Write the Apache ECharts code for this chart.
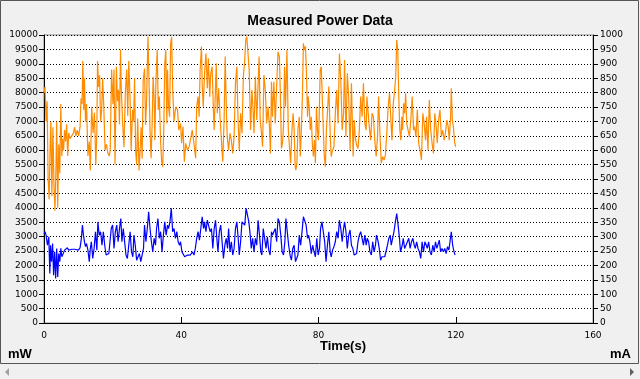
<!DOCTYPE html>
<html>
<head>
<meta charset="utf-8">
<script src="https://cdn.jsdelivr.net/npm/echarts@6/dist/echarts.min.js"></script>
<style>html,body{margin:0;padding:0;background:#F0F0F0;}#c{width:640px;height:379px;}</style>
</head>
<body>
<div id="c"></div>
<script>
// Power (mW, left axis) sampled at these times (s)
const powerTime = [0.0,0.3,0.6,0.9,1.2,1.5,1.75,2.0,2.3,2.6,2.9,3.2,3.5,3.7,4.0,4.3,4.6,4.9,5.2,5.4,5.7,6.0,6.3,6.6,6.9,7.2,7.6,8.1,8.6,8.9,9.3,9.7,10.1,10.5,10.8,11.1,11.3,11.6,11.8,12.1,12.4,12.8,13.2,13.5,13.9,14.3,14.7,15.1,15.4,15.6,15.9,16.2,16.5,16.8,17.1,17.4,17.8,18.2,18.6,19.0,19.3,19.7,20.1,20.4,20.7,21.1,21.4,21.7,22.0,22.3,22.5,22.9,23.3,23.7,24.1,24.4,24.7,25.1,25.4,25.8,26.1,26.4,26.7,27.0,27.3,27.7,28.0,28.3,28.6,28.9,
29.3,29.6,29.9,30.3,30.6,30.9,31.2,31.5,31.8,32.1,32.3,32.6,33.0,33.3,33.6,34.0,34.3,34.6,34.9,35.2,35.5,35.8,36.0,36.3,36.6,36.9,37.2,37.5,37.9,38.4,38.9,39.3,39.8,40.1,40.5,40.9,41.3,41.8,42.3,42.7,43.2,43.7,44.2,44.5,44.9,45.2,45.5,45.9,46.1,46.4,46.8,47.2,47.6,47.9,48.3,48.6,49.0,49.4,49.6,49.9,50.2,50.5,50.9,51.3,51.7,52.1,52.5,52.8,53.2,53.4,53.8,54.2,54.6,55.0,55.4,55.8,56.2,56.5,56.9,57.3,57.7,58.1,58.5,58.8,59.1,
59.8,60.2,60.6,60.9,61.2,61.6,62.0,62.4,62.7,63.0,63.3,63.7,64.1,64.5,64.9,65.3,65.7,66.0,66.3,66.6,67.0,67.4,67.8,68.2,68.6,68.9,69.2,69.5,69.8,70.1,70.4,70.8,71.2,71.6,71.9,72.2,72.6,72.9,73.2,73.4,73.7,74.0,74.4,74.7,75.0,75.3,75.6,75.9,76.2,76.5,76.8,77.0,77.3,77.6,77.9,78.2,78.5,78.8,79.1,79.4,79.7,80.0,80.2,80.5,80.8,81.1,81.4,81.7,82.0,82.3,82.6,83.0,83.4,83.7,84.1,84.5,84.9,85.3,85.7,86.1,86.5,86.9,87.3,87.6,88.0,88.4,88.8,89.2,89.6,
90.1,90.4,90.7,91.1,91.5,91.9,92.3,92.7,93.1,93.5,93.9,94.1,94.4,94.8,95.2,95.6,96.0,96.4,96.8,97.2,97.5,97.9,98.3,98.7,99.1,99.5,99.9,100.3,100.7,101.0,101.4,101.8,102.2,102.5,102.8,103.1,103.4,103.7,104.0,104.3,104.5,104.8,105.1,105.4,105.7,106.1,106.5,106.9,107.3,107.7,108.0,108.4,108.8,109.2,109.6,110.0,110.4,110.8,111.2,111.5,111.9,112.3,112.7,113.1,113.5,113.9,114.3,114.6,115.0,115.4,115.8,116.2,116.6,117.0,117.4,117.8,118.1,118.5,118.7,119.0,119.3,119.7,120.0];
const powerMW = [8000,8200,7000,7700,5000,4300,6000,7000,4400,6800,4800,3900,5500,7000,4000,6200,5200,7600,5800,6400,6000,6700,6300,6900,5800,6600,6400,6400,6600,6800,6500,6700,6500,6800,7800,7600,9100,7400,8500,7000,7600,5800,6300,5300,7500,6600,7300,5500,6600,9100,8200,8600,7000,7400,8500,7600,6000,6200,5900,5800,6000,8800,7600,8800,5500,8900,7700,8100,6900,9500,8200,7000,6100,8000,8800,7200,9100,7700,6000,7400,7000,8500,6000,5500,7100,5300,6000,6800,5700,8400,
8840,6880,7740,9950,8440,6700,5720,6820,8550,7740,6350,8320,9480,7400,7860,6240,5600,5430,6700,9000,9480,6930,8790,7510,7160,9700,9940,8090,7000,7510,7400,6700,6930,6240,6820,5600,6240,6000,6120,6060,6700,6240,5720,7510,7860,7160,8790,9600,8320,7510,8670,9360,8150,9190,7860,8670,8900,7280,6700,7860,9020,7280,8150,7160,6350,5600,7100,9250,7160,6470,6000,6590,6350,5890,6470,8320,8900,7280,6000,7280,6590,8550,9130,9830,9950,
8790,6700,8090,7510,6590,8550,7050,8320,9250,7050,6700,6120,8610,8090,6930,7510,6820,5890,8380,7160,8380,6930,8210,9420,9250,7860,6060,6240,6820,8900,7510,9480,6700,6000,5550,6590,7280,6700,5430,5310,5550,6700,7160,5780,6700,7860,9710,9480,9600,8670,7160,7860,7510,6700,7160,6240,5780,6350,5550,7510,6700,6350,7160,8790,8900,7860,6700,5780,5430,6700,7280,8210,6590,5780,6000,6120,7280,8090,6930,9360,8440,6700,7280,9130,6470,8670,7860,6000,8320,
5780,7050,6470,6180,6060,6700,7860,7160,8320,6930,6700,7860,7400,6820,6350,7280,7160,6350,5780,6470,7860,6590,5550,5780,5660,5830,6590,7510,7980,7280,6350,7630,8090,8550,9830,9480,7860,6700,6350,7160,6700,7630,7280,7980,6930,6700,6470,7050,7860,6700,6820,6470,7400,6240,6000,5660,7280,6930,6350,7160,6000,7740,6700,6240,5890,7280,6820,6240,7050,7400,6470,6700,6350,6590,7050,6820,6350,7160,8150,7050,6820,6240,6120];

// Current (mA, right axis) sampled at these times (s)
const currentTime = [0.0,0.3,0.6,1.0,1.4,1.7,1.9,2.2,2.5,2.8,3.1,3.4,3.7,4.0,4.3,4.6,4.9,5.2,5.6,6.0,6.4,6.8,7.2,7.6,8.1,8.6,9.0,9.5,10.0,10.5,10.9,11.2,11.5,11.8,12.1,12.4,12.8,13.2,13.5,13.8,14.2,14.6,15.0,15.4,15.7,16.1,16.5,16.9,17.3,17.7,18.1,18.5,18.9,19.2,19.6,20.0,20.4,20.8,21.2,21.6,22.0,22.4,22.7,23.1,23.5,23.9,24.3,24.7,25.1,25.5,25.9,26.2,26.6,27.0,27.4,27.8,28.2,28.6,29.0,29.3,29.7,30.1,30.5,30.9,31.3,31.7,32.1,32.5,32.8,33.2,33.6,34.0,34.4,34.8,35.2,35.6,36.0,36.3,36.7,37.1,37.5,37.9,38.3,38.7,39.1,39.5,39.8,40.2,40.6,41.0,41.4,41.8,42.2,42.6,43.0,43.3,43.7,44.1,44.5,44.9,45.3,45.7,46.1,46.5,46.8,47.2,47.6,48.0,48.4,48.8,49.2,49.6,50.0,50.3,50.7,51.1,51.5,51.9,52.3,52.7,53.1,53.5,53.8,54.2,54.6,55.0,55.4,55.8,56.2,56.6,56.9,57.3,57.7,58.1,58.5,58.9,59.3,59.7,60.1,60.4,
60.8,61.2,61.6,62.0,62.4,62.8,63.2,63.5,63.9,64.3,64.7,65.1,65.5,65.9,66.3,66.6,67.0,67.4,67.8,68.2,68.6,69.0,69.4,69.8,70.2,70.5,70.9,71.3,71.7,72.1,72.5,72.9,73.3,73.6,74.0,74.4,74.8,75.2,75.6,76.0,76.4,76.8,77.1,77.5,77.9,78.3,78.7,79.1,79.5,79.9,80.3,80.6,81.0,81.4,81.8,82.2,82.6,83.0,83.4,83.7,84.1,84.5,84.9,85.3,85.7,86.1,86.5,86.9,87.3,87.6,88.0,88.4,88.8,89.2,89.6,90.0,90.4,90.7,91.1,91.5,91.9,92.3,92.7,93.1,93.5,93.9,94.2,94.6,95.0,95.4,95.8,96.2,96.6,96.9,97.4,97.7,98.1,98.5,98.9,99.3,99.7,100.1,100.5,100.9,101.2,101.6,102.0,102.4,102.8,103.2,103.6,103.9,104.4,104.7,105.1,105.5,105.9,106.3,106.7,107.1,107.5,107.9,108.2,108.6,109.0,109.4,109.8,110.2,110.6,111.0,111.4,111.7,112.1,112.5,112.9,113.3,113.7,114.1,114.5,114.9,115.2,115.6,116.0,116.4,116.8,117.2,117.6,118.0,118.4,118.7,119.1,119.5,119.8];
const currentMA = [310,317,305,270,299,172,270,213,276,166,247,155,259,160,241,213,259,230,241,253,259,261,253,250,256,259,256,261,253,261,294,340,305,282,265,276,253,213,259,282,224,259,317,253,351,305,317,270,317,270,236,230,241,236,328,340,259,317,340,282,328,363,282,328,282,236,224,270,317,247,230,305,270,218,213,241,213,213,259,340,282,328,386,328,282,247,294,270,328,363,294,317,247,305,351,305,340,328,351,398,317,328,294,317,282,270,282,247,253,230,224,236,233,236,230,247,236,259,294,317,288,328,369,328,351,317,357,351,317,328,259,328,357,305,247,317,340,282,224,270,294,259,328,247,282,236,259,328,351,294,236,282,351,357,340,398,400,351,305,259,
294,247,294,270,357,305,247,236,328,294,259,299,253,236,317,305,317,328,282,363,351,305,247,236,282,363,317,270,236,218,259,270,213,218,236,305,270,317,369,375,340,294,305,282,241,270,247,230,294,236,259,328,351,317,282,213,270,317,247,230,253,265,282,317,294,357,328,282,328,351,317,259,305,323,270,259,236,241,241,282,305,317,294,270,305,270,294,282,247,236,282,247,270,305,282,259,218,230,224,230,236,270,294,305,270,294,317,351,380,340,294,247,270,294,259,270,265,294,259,282,294,270,259,282,259,247,224,282,247,282,270,259,282,247,236,270,247,282,259,265,288,247,259,247,259,241,265,253,259,317,270,247,236];

const leftTicks = [0, 10000, 500];   // min, max, interval (mW)
const rightTicks = [0, 1000, 50];    // min, max, interval (mA)
const timeTicks = [0, 160, 40];      // min, max, interval (s)

const powerData = powerTime.map((t, i) => [t, powerMW[i]]);
const currentData = currentTime.map((t, i) => [t, currentMA[i]]);

const chart = echarts.init(document.getElementById('c'), null, {renderer: 'canvas'});
const plain = v => String(v);
const lblFont = {color: '#000', fontFamily: 'DejaVu Sans', fontSize: 9, formatter: plain};
chart.setOption({
  animation: false,
  backgroundColor: '#F0F0F0',
  title: {
    text: 'Measured Power Data', left: 'center', top: 9,
    textStyle: {fontFamily: 'Liberation Sans', fontWeight: 'bold', fontSize: 14, color: '#000'}
  },
  grid: {left: 44, right: 47, top: 35, bottom: 56, show: true, backgroundColor: '#fff', borderColor: '#8c8c8c', borderWidth: 1},
  xAxis: {
    type: 'value', min: timeTicks[0], max: timeTicks[1], interval: timeTicks[2],
    axisLine: {lineStyle: {color: '#000', width: 1}},
    axisTick: {inside: true, length: 6, lineStyle: {color: '#000'}},
    axisLabel: Object.assign({margin: 8}, lblFont),
    splitLine: {show: false}
  },
  yAxis: [{
    type: 'value', position: 'left', min: leftTicks[0], max: leftTicks[1], interval: leftTicks[2],
    axisLine: {show: true, lineStyle: {color: '#000', width: 1}},
    axisTick: {show: true, length: 5, lineStyle: {color: '#000'}},
    axisLabel: Object.assign({margin: 6}, lblFont),
    splitLine: {show: true, lineStyle: {color: '#000', type: [1, 2], width: 1}}
  }, {
    type: 'value', position: 'right', min: rightTicks[0], max: rightTicks[1], interval: rightTicks[2],
    axisLine: {show: true, lineStyle: {color: '#000', width: 1}},
    axisTick: {show: true, length: 5, lineStyle: {color: '#000'}},
    axisLabel: Object.assign({margin: 7}, lblFont),
    splitLine: {show: false}
  }],
  series: [{
    name: 'Power', type: 'line', yAxisIndex: 0, data: powerData, showSymbol: false,
    lineStyle: {color: '#FF8C00', width: 1.2}, itemStyle: {color: '#FF8C00'}
  }, {
    name: 'Current', type: 'line', yAxisIndex: 1, data: currentData, showSymbol: false,
    lineStyle: {color: '#0000FF', width: 1.2}, itemStyle: {color: '#0000FF'}
  }],
  graphic: [
    {type: 'rect', shape: {x: 0.5, y: 0.5, width: 638, height: 363}, style: {fill: 'none', stroke: '#555', lineWidth: 1}, silent: true},
    {type: 'polygon', shape: {points: [[9, 368], [9, 376], [5, 372]]}, style: {fill: '#a0a0a0'}, silent: true},
    {type: 'polygon', shape: {points: [[630, 368], [630, 376], [634, 372]]}, style: {fill: '#606060'}, silent: true},
    {type: 'text', left: 320, top: 340, style: {text: 'Time(s)', fontFamily: 'Liberation Sans', fontWeight: 'bold', fontSize: 13, fill: '#000', textAlign: 'center'}},
    {type: 'text', left: 8, top: 348, style: {text: 'mW', fontFamily: 'Liberation Sans', fontWeight: 'bold', fontSize: 13, fill: '#000'}},
    {type: 'text', left: 610, top: 348, style: {text: 'mA', fontFamily: 'Liberation Sans', fontWeight: 'bold', fontSize: 13, fill: '#000'}}
  ]
});
</script>
</body>
</html>
